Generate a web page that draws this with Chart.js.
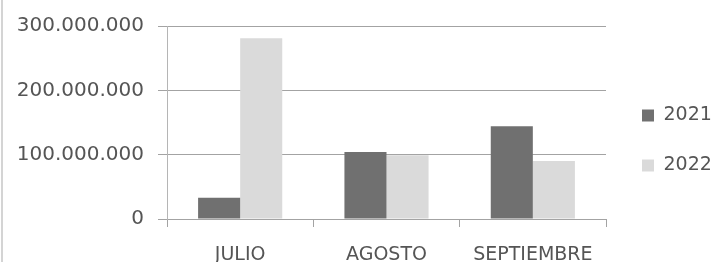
<!DOCTYPE html>
<html>
<head>
<meta charset="utf-8">
<script src="https://cdn.jsdelivr.net/npm/chart.js@4/dist/chart.umd.min.js"></script>
<style>
  html, body { margin: 0; padding: 0; background: #fff; }
  #wrap { position: relative; width: 717px; height: 262px; }
  #edge { position: absolute; left: 1px; top: 0; width: 2px; height: 262px; background: #d4d4d4; }
</style>
</head>
<body>
<div id="wrap">
  <canvas id="chart" width="717" height="262"></canvas>
  <div id="edge"></div>
</div>
<script>
/* ── Data ─────────────────────────────────────────────────────── */
const months = ["JULIO", "AGOSTO", "SEPTIEMBRE"];
const values2021 = [33000000, 104000000, 144000000];
const values2022 = [281000000, 99000000, 90000000];
const yTicks = [0, 100000000, 200000000, 300000000];

const DARK = "#707070";
const LIGHT = "#dadada";
const TEXT = "#555555";
const GRID = "#a3a3a3";

function dotted(v) {
    return String(v).replace(/\B(?=(\d{3})+(?!\d))/g, ".");
}

Chart.defaults.font.family = "'DejaVu Sans', sans-serif";
Chart.defaults.color = TEXT;

/* legend: fixed width so the plot ends where the reference does,
   then nudge the items a little to the right / up */
const legendTweak = {
    id: "legendTweak",
    beforeInit(chart) {
        const lg = chart.legend;
        if (!lg || lg._tweaked) return;
        const fit = lg.fit.bind(lg);
        lg.fit = function () { fit(); this.width = 111; };
        lg._tweaked = true;
    },
    afterLayout(chart) {
        const lg = chart.legend;
        lg.left += 5; lg.right += 5;
        lg.top -= 3; lg.bottom -= 3;
    },
};

new Chart(document.getElementById("chart"), {
    type: "bar",
    data: {
        labels: months,
        datasets: [
            { label: "2021", data: values2021, backgroundColor: DARK },
            { label: "2022", data: values2022, backgroundColor: LIGHT },
        ],
    },
    options: {
        responsive: false,
        animation: false,
        layout: { padding: { top: 25, left: 0, right: 0, bottom: 0 } },
        datasets: { bar: { categoryPercentage: 0.575, barPercentage: 1 } },
        plugins: {
            tooltip: { enabled: false },
            legend: {
                position: "right",
                labels: {
                    boxWidth: 12,
                    boxHeight: 12,
                    padding: 31,
                    font: { size: 19 },
                    color: TEXT,
                },
            },
        },
        scales: {
            x: {
                grid: { offset: true, drawOnChartArea: false, tickLength: 8, color: GRID },
                border: { display: true, color: GRID },
                ticks: { padding: 17, font: { size: 19 }, maxRotation: 0 },
                afterFit: s => { s.height = 43; },
            },
            y: {
                min: 0,
                max: 300000000,
                afterBuildTicks: s => { s.ticks = yTicks.map(v => ({ value: v })); },
                grid: { color: GRID, tickLength: 9 },
                border: { display: true, color: "#b5b5b5" },
                ticks: { padding: 14, font: { size: 20 }, callback: v => dotted(v) },
                afterFit: s => { s.width = 167; },
            },
        },
    },
    plugins: [legendTweak],
});
</script>
</body>
</html>
